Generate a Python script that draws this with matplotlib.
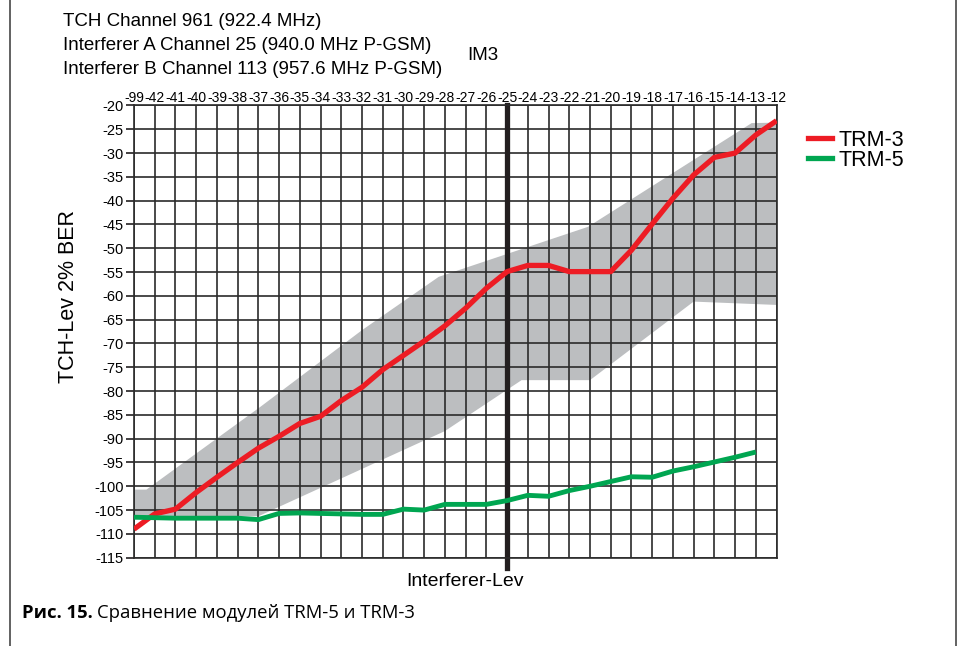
import numpy as np
import matplotlib.pyplot as plt
from matplotlib.lines import Line2D

plt.rcParams['font.family'] = ['Liberation Sans', 'DejaVu Sans']
plt.rcParams['axes.unicode_minus'] = False

# Interferer level labels (top axis)
levels = ['-99', '-42', '-41', '-40', '-39', '-38', '-37', '-36', '-35', '-34',
          '-33', '-32', '-31', '-30', '-29', '-28', '-27', '-26', '-25', '-24',
          '-23', '-22', '-21', '-20', '-19', '-18', '-17', '-16', '-15', '-14',
          '-13', '-12']

# TCH level at 2% BER
trm3 = [-109.0, -105.8, -104.8, -101.3, -98.1, -95.0, -92.0, -89.5, -86.8, -85.3,
        -82.0, -79.2, -75.5, -72.5, -69.5, -66.3, -62.6, -58.4, -54.9, -53.6,
        -53.6, -54.9, -54.9, -54.9, -50.4, -44.9, -39.5, -34.6, -30.9, -30.0,
        -26.2, -23.2]
trm5 = [-106.5, -106.6, -106.7, -106.7, -106.7, -106.7, -107.0, -105.7, -105.6, -105.7,
        -105.8, -105.9, -105.9, -104.8, -105.0, -103.8, -103.8, -103.8, -103.0, -101.9,
        -102.1, -100.9, -100.0, -99.0, -98.0, -98.1, -96.8, -95.9, -94.9, -93.9,
        -92.8]

# grey spread band (upper / lower edges)
band_upper_x = [0, 0.6, 6.1, 11.0, 14.7, 21.9, 29.8, 31]
band_upper_y = [-100.7, -100.7, -83.3, -67.2, -56.0, -45.5, -23.7, -23.6]
band_lower_x = [0, 6.0, 15.0, 18.7, 22.0, 27.0, 31]
band_lower_y = [-106.3, -106.3, -88.4, -77.7, -77.7, -61.2, -61.9]

im3_level = '-25'

fig = plt.figure(figsize=(9.62, 6.46), dpi=100)
ax = fig.add_axes([0.1393, 0.1367, 0.6679, 0.7000])

x3 = np.arange(len(trm3))
x5 = np.arange(len(trm5))

# band
bx = band_upper_x + band_lower_x[::-1]
by = band_upper_y + band_lower_y[::-1]
ax.fill(bx, by, color='#BCBEC0', lw=0, zorder=1)

# grid
ax.set_xlim(0, len(levels) - 1)
ax.set_ylim(-115, -20)
ax.set_xticks(np.arange(len(levels)))
ax.set_xticklabels(levels)
ax.set_yticks(np.arange(-115, -19, 5))
ax.xaxis.tick_top()
ax.tick_params(axis='x', length=0, pad=0.5, labelsize=10)
ax.tick_params(axis='y', length=6, width=1.2, pad=1.5, labelsize=10.5, color='#231F20')
ax.grid(True, color='#2b2b2b', lw=1.2)
for s in ax.spines.values():
    s.set_color('#2b2b2b')
    s.set_linewidth(1.2)

# IM3 marker
xi = levels.index(im3_level)
ax.axvline(xi, ymin=-0.022, ymax=1, color='#231F20', lw=3.8, clip_on=False, zorder=2.5)

ax.plot(x3, trm3, color='#ED1C24', lw=3.8, solid_joinstyle='round',
        solid_capstyle='butt', zorder=3, label='TRM-3')
ax.plot(x5, trm5, color='#00A651', lw=3.5, solid_joinstyle='round',
        solid_capstyle='butt', zorder=3.1, label='TRM-5')

ax.set_ylabel('TCH-Lev 2% BER', fontsize=15.5)
ax.yaxis.set_label_coords(-0.0856, 0.577)
fig.text(465 / 962, 1 - 582 / 646, 'Interferer-Lev', fontsize=14, ha='center', va='center')

handles = [Line2D([], [], color='#ED1C24', lw=3.8), Line2D([], [], color='#00A651', lw=3.8)]
fig.legend(handles, ['TRM-3', 'TRM-5'], loc='upper left',
           bbox_to_anchor=(808 / 962, 1 - 130 / 646), frameon=False, fontsize=15.5,
           handlelength=1.1, handletextpad=0.3, labelspacing=-0.05, borderpad=0,
           borderaxespad=0)

# header
for k, t in enumerate(['TCH Channel 961 (922.4 MHz)',
                       'Interferer A Channel 25 (940.0 MHz P-GSM)',
                       'Interferer B Channel 113 (957.6 MHz P-GSM)']):
    fig.text(63 / 962, 1 - (22 + 24 * k) / 646, t, fontsize=13.5, ha='left', va='center')
fig.text(483 / 962, 1 - 55 / 646, 'IM3', fontsize=13.5, ha='center', va='center')

# caption
fig.canvas.draw()
r = fig.canvas.get_renderer()
cap_font = ['Open Sans', 'DejaVu Sans']
cap1 = fig.text(22 / 962, 1 - 613 / 646, 'Рис. 15.', fontsize=13.3, fontweight='bold',
                family=cap_font, ha='left', va='center')
bb = cap1.get_window_extent(renderer=r)
fig.text(bb.x1 / fig.bbox.width + 4 / 962, 1 - 613 / 646,
         'Сравнение модулей TRM-5 и TRM-3', fontsize=13.3,
         family=cap_font, ha='left', va='center')

# page border lines
for xf in (10 / 962, 956 / 962):
    fig.add_artist(Line2D([xf, xf], [0, 1], transform=fig.transFigure, color='#555555', lw=1.3))

fig.savefig('out.png', dpi=100)
